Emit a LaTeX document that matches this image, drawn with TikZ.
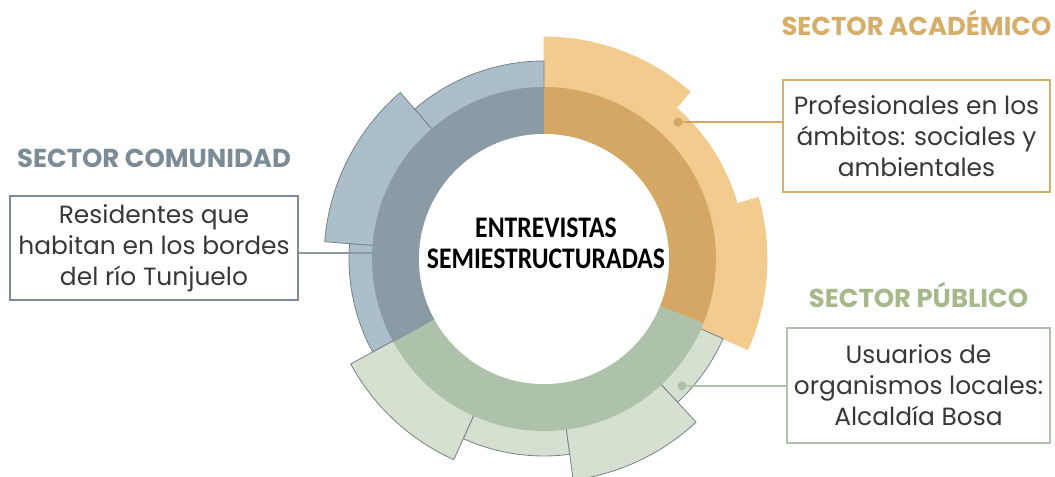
\documentclass[tikz,border=0pt]{standalone}
\usepackage{fontspec}
\setmainfont{Poppins}
\newfontfamily\hubfont[FakeStretch=0.86]{Carlito}
\usetikzlibrary{positioning}

\definecolor{acalight}{RGB}{242,204,143}
\definecolor{acadark}{RGB}{212,168,100}
\definecolor{acatext}{RGB}{214,174,106}
\definecolor{comlight}{RGB}{170,191,202}
\definecolor{comdark}{RGB}{138,155,166}
\definecolor{comtext}{RGB}{124,140,150}
\definecolor{publight}{RGB}{214,224,209}
\definecolor{pubdark}{RGB}{174,193,170}
\definecolor{pubtext}{RGB}{166,184,140}
\definecolor{edgegray}{RGB}{120,130,134}

\tikzset{
  piece/.style={line width=0.8bp, line join=miter},
  heading/.style={font=\fontsize{26}{30}\selectfont\bfseries},
  infobox/.style={draw, line width=1.6bp, align=center, inner sep=0pt, text=black!78, font=\fontsize{25}{31}\selectfont},
  link/.style={line width=1.5bp},
  dotmark/.style={circle, inner sep=0pt, minimum size=9bp},
  hub/.style={align=center, font=\hubfont\fontsize{30}{31}\selectfont\bfseries}
}

\begin{document}
\begin{tikzpicture}[x=1bp, y=1bp]
    \useasboundingbox (0,0) rectangle (1055,477);
    \coordinate (c) at (544,218);

    % Outer pieces of the wheel
    \begin{scope}[shift={(c)}]
        \foreach \a/\b/\r/\col/\edge in {
            336/376/223/acalight/acalight, 16/48.8/201/acalight/acalight, 48.8/90/222/acalight/acalight,
            90/130.8/198/comlight/edgegray, 130.8/175.5/220/comlight/edgegray, 175.5/208.5/195/comlight/edgegray,
            245.8/277.5/197/publight/edgegray, 313/336/196/publight/edgegray,
            208.5/245.8/220/publight/edgegray, 277.5/313/223/publight/edgegray}
            \filldraw[piece, fill=\col, draw=\edge] (0,0) -- (\a:\r) arc[start angle=\a, end angle=\b, radius=\r] -- cycle;

        % Inner ring
        \fill[acadark] (-22:172) arc[start angle=-22, end angle=90, radius=172] -- (90:125) arc[start angle=90, end angle=-22, radius=125] -- cycle;
        \fill[comdark] (90:172) arc[start angle=90, end angle=209, radius=172] -- (209:125) arc[start angle=209, end angle=90, radius=125] -- cycle;
        \fill[pubdark] (209:172) arc[start angle=209, end angle=338, radius=172] -- (338:125) arc[start angle=338, end angle=209, radius=125] -- cycle;
        \fill[white] (0,0) circle[radius=125];

        % Anchors of the links
        \node[dotmark, fill=acadark] (acadot) at (45.6:191.6) {};
        \node[dotmark, fill=pubdark] (pubdot) at (-42.6:187.5) {};
        \coordinate (comend) at (178:172);
    \end{scope}

    \node[hub] (hub) at (546,234) {ENTREVISTAS\\SEMIESTRUCTURADAS};

    % Boxes
    \node[infobox, draw=acatext, minimum width=267bp, minimum height=112bp] (aca) at (916.5,341) {Profesionales en los\\ámbitos: sociales y\\ambientales};
    \node[infobox, draw=comtext, minimum width=288bp, minimum height=104bp] (com) at (154,229) {Residentes que\\habitan en los bordes\\del río Tunjuelo};
    \node[infobox, draw=pubdark, minimum width=263bp, minimum height=115bp] (pub) at (918.5,91.5) {Usuarios de\\organismos locales:\\Alcaldía Bosa};

    % Headings
    \node[heading, text=acatext, above=40bp of aca] (acahead) {SECTOR ACADÉMICO};
    \node[heading, text=comtext, above=24bp of com] (comhead) {SECTOR COMUNIDAD};
    \node[heading, text=pubtext, above=16bp of pub] (pubhead) {SECTOR PÚBLICO};

    % Links
    \draw[link, acadark] (acadot) -- (acadot -| aca.west);
    \draw[link, comdark] (comend -| com.east) -- (comend);
    \draw[link, pubdark] (pubdot) -- (pubdot -| pub.west);
\end{tikzpicture}
\end{document}
